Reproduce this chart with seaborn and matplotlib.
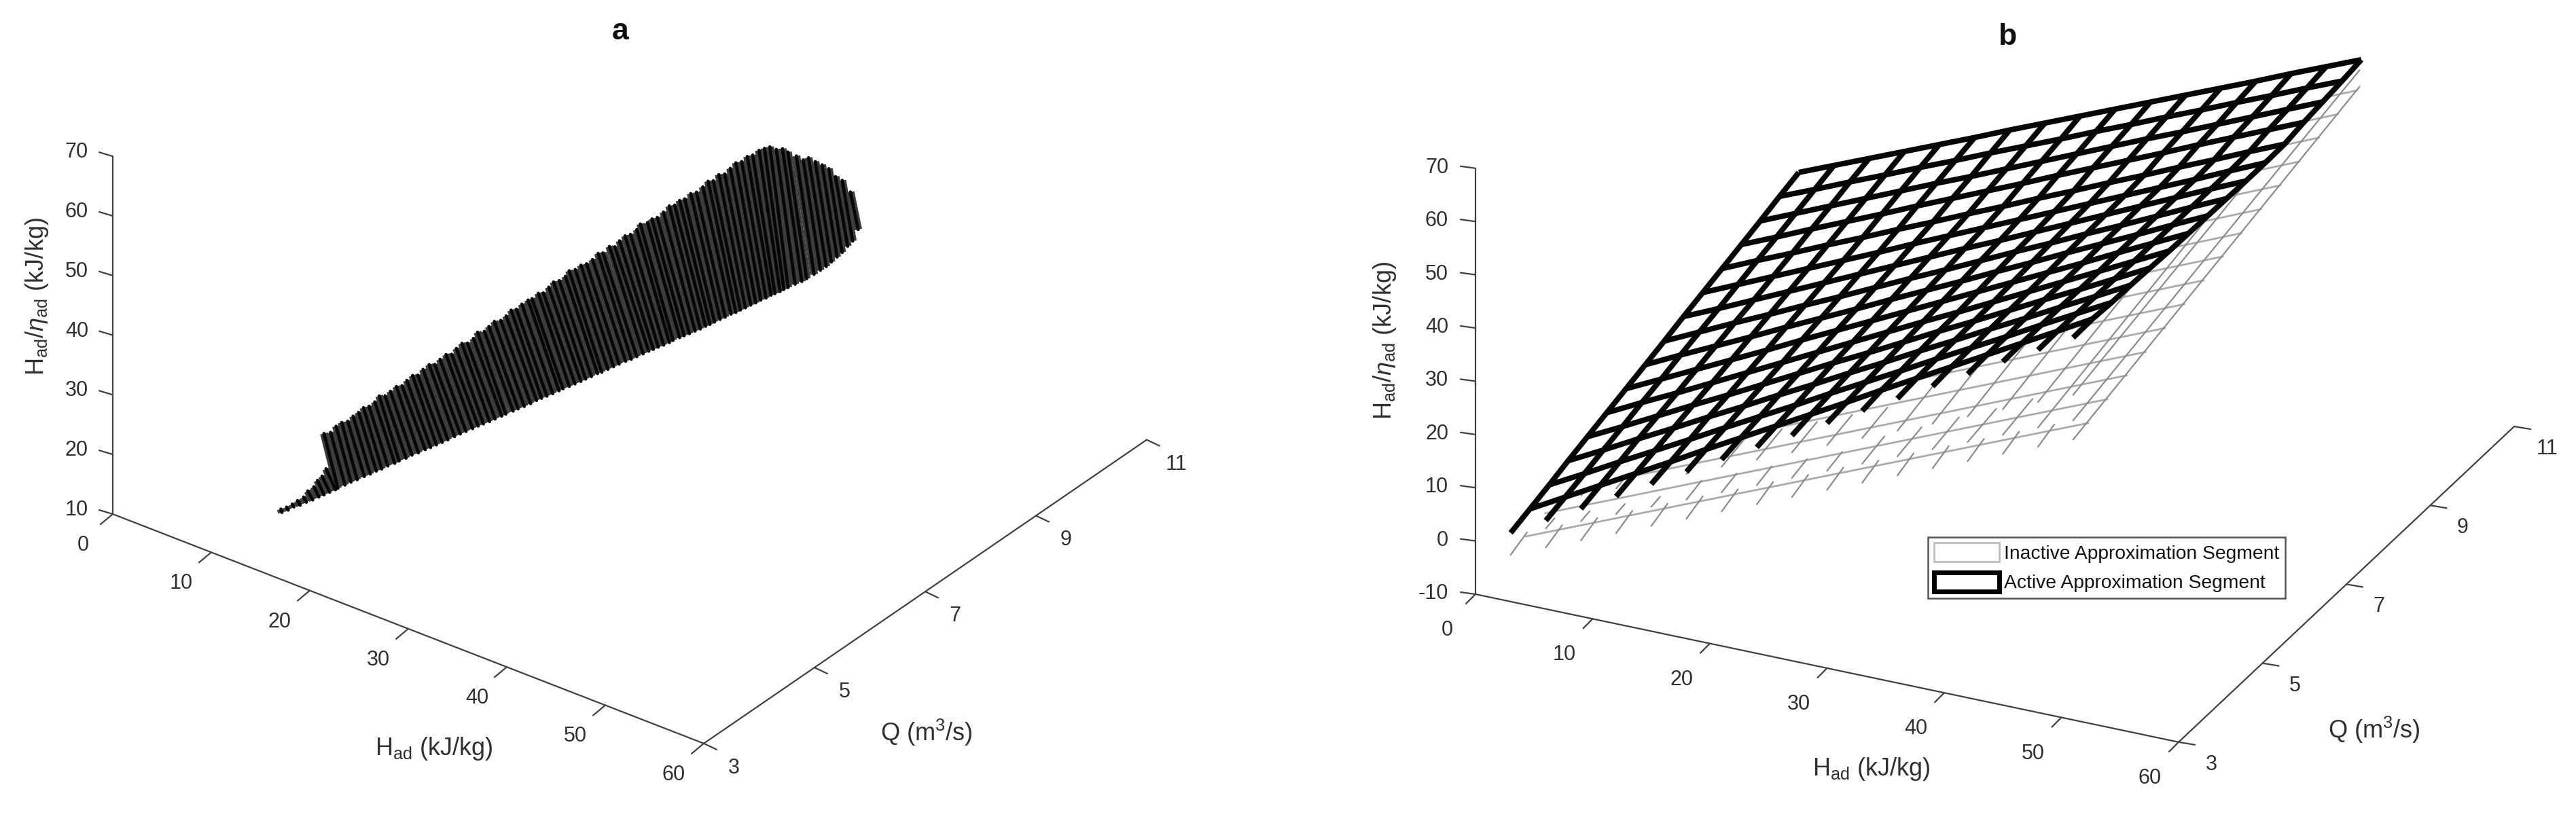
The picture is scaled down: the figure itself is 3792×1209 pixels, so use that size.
import numpy as np, pandas as pd
import matplotlib
matplotlib.use('Agg')
import matplotlib.pyplot as plt
from matplotlib.patches import Patch
from matplotlib.colors import ListedColormap
import seaborn as sns

# ---- Panel a: constant-speed stripes
stripe_H=[13.97,14.44,14.85,15.26,15.72,16.03,16.48,16.73,17.08,17.38,17.23,17.73,18.12,18.52,18.96,19.34,19.73,20.06,20.45,20.87,21.15,21.57,21.95,22.32,22.73,23.05,23.41,23.77,24.13,24.53,24.88,25.24,25.63,25.97,26.28,26.62,26.96,27.34,27.59,28,28.29,28.62,28.99,29.31,29.59,29.91,30.23,30.58,30.82,31.17,31.47,31.78,32.05,32.35,32.68,32.9,33.24,33.53,33.82,34.14,34.43,34.71,35.02,35.3,35.54,35.82,36.09,36.39,36.59,36.92,37.15,37.41,37.7,37.95,38.21,38.43,38.67,38.95,39.19,39.5,39.7,39.94,40.17,40.43,40.66,40.89,41.14,41.37,41.59,41.83,42.05,42.26,42.52,42.75,42.96,43.26,43.51,43.71,43.95,44.19,44.42,44.65,44.88,45.15]
stripe_Q_top=[3.55,3.57,3.6,3.62,3.65,3.67,3.7,3.72,3.74,3.76,3.75,3.78,3.81,3.84,3.87,3.9,3.93,3.96,3.99,4.02,4.05,4.08,4.11,4.15,4.18,4.21,4.25,4.28,4.31,4.35,4.39,4.42,4.46,4.5,4.53,4.57,4.61,4.65,4.68,4.73,4.76,4.8,4.85,4.89,4.93,4.97,5.01,5.06,5.09,5.14,5.18,5.22,5.26,5.31,5.36,5.39,5.44,5.49,5.54,5.59,5.64,5.68,5.74,5.79,5.83,5.88,5.93,5.99,6.02,6.09,6.13,6.18,6.24,6.3,6.35,6.4,6.45,6.51,6.57,6.63,6.69,6.74,6.8,6.86,6.92,6.98,7.04,7.1,7.16,7.23,7.29,7.35,7.42,7.49,7.55,7.65,7.73,7.79,7.87,7.95,8.03,8.11,8.19,8.29]
stripe_Q_bot=[3.57,3.6,3.63,3.67,3.7,3.76,3.79,3.84,3.88,3.93,4,4.04,4.08,4.12,4.17,4.21,4.25,4.29,4.33,4.38,4.41,4.46,4.5,4.55,4.6,4.64,4.68,4.72,4.76,4.81,4.85,4.89,4.94,4.98,5.02,5.07,5.11,5.16,5.19,5.25,5.29,5.34,5.39,5.44,5.48,5.52,5.57,5.62,5.65,5.7,5.75,5.8,5.84,5.89,5.94,5.98,6.03,6.08,6.13,6.19,6.24,6.29,6.35,6.4,6.44,6.48,6.53,6.58,6.61,6.67,6.71,6.76,6.81,6.86,6.91,6.95,6.99,7.04,7.09,7.14,7.19,7.23,7.28,7.33,7.38,7.43,7.48,7.53,7.56,7.61,7.64,7.68,7.76,7.84,7.89,7.97,8.04,8.11,8.16,8.22,8.27,8.33,8.38,8.43]
stripe_Z_top=[16.3,16.8,17.4,18.1,18.8,19.9,20.7,21.8,22.6,23.9,29.8,30.1,31.2,31.9,32.2,33.1,33.8,34.6,34.9,35.7,36.7,36.8,37.6,38.4,38.6,39.5,40.3,40.4,41.4,42.2,42.2,43.1,43.9,43.9,44.9,45.7,45.7,46.5,47.5,47.6,48.4,49.2,49.3,50,50.9,51,51.8,52.4,52.6,53.4,53.4,54.3,55.1,55.2,55.8,56.7,56.8,57.4,57.5,58.1,59,59,59.9,59.7,60.6,61.3,61.4,62,62.9,62.9,63.4,63.5,64.2,65,65,65.6,65.7,66.4,66.4,67.1,67.8,67.7,68.5,68.4,69.1,69.8,69.8,70.4,70.4,70.9,71,71,70.3,70.1,69.3,68.2,67.2,67.3,66.3,65.4,64.4,62.7,61.7,59.3]
stripe_Z_bot=[15.6,16.1,16.7,17,17.6,17.8,18.4,18.6,19,19.3,19,19.6,20.1,20.5,21,21.4,21.9,22.2,22.7,23.1,23.5,23.9,24.4,24.7,25.2,25.5,25.9,26.3,26.7,27.2,27.6,28,28.4,28.8,29.1,29.4,29.8,30.2,30.5,30.9,31.2,31.5,31.9,32.3,32.6,32.9,33.2,33.6,33.9,34.2,34.5,34.8,35.1,35.4,35.8,35.9,36.3,36.6,36.9,37.2,37.4,37.7,38,38.3,38.5,38.8,39,39.3,39.6,39.9,40.1,40.3,40.6,40.8,41.1,41.3,41.6,41.9,42.1,42.5,42.6,42.9,43.1,43.4,43.6,43.9,44.1,44.4,44.6,44.8,45.1,45.3,45.5,45.6,45.9,46.3,46.7,47,47.6,48.2,48.8,49.6,50.3,52.1]

# ---- Panel b: approximation segments
mesh_H=[3,6,9,12,15,18,21,24,27,30,33,36,39,42,45,48,51]
mesh_Q=[3,3.46,3.92,4.37,4.83,5.29,5.75,6.21,6.66,7.12,7.58,8.04,8.5,8.95,9.41,9.87]
active_Z=[
[2.9,6.6,10.2,13.9,17.6,21.3,25,28.7,32.3,36,39.7,43.4,47.1,50.8,54.5,58.1,61.8],
[4,7.6,11.2,14.8,18.4,22.1,25.7,29.3,32.9,36.5,40.2,43.8,47.4,51,54.6,58.2,61.9],
[5.1,8.6,12.2,15.7,19.2,22.8,26.3,29.8,33.4,36.9,40.4,44,47.5,51,54.6,58.1,61.6],
[6.3,9.7,13.2,16.6,20.1,23.5,27,30.4,33.9,37.3,40.8,44.2,47.7,51.1,54.6,58,61.5],
[7.4,10.7,14.1,17.5,20.8,24.2,27.6,31,34.3,37.7,41.1,44.4,47.8,51.2,54.5,57.9,61.3],
[8.5,11.8,15,18.3,21.6,24.9,28.2,31.5,34.8,38.1,41.3,44.6,47.9,51.2,54.5,57.8,61.1],
[9.6,12.8,16.0,19.2,22.4,25.7,28.9,32.1,35.3,38.5,41.7,44.9,48.1,51.3,54.6,57.8,61.0],
[10.7,13.9,17.0,20.1,23.3,26.4,29.5,32.7,35.8,38.9,42.1,45.2,48.4,51.5,54.6,57.8,60.9],
[11.8,14.9,18.0,21.0,24.1,27.1,30.2,33.3,36.3,39.4,42.5,45.5,48.6,51.6,54.7,57.8,60.8],
[13.0,15.9,18.9,21.9,24.9,27.9,30.9,33.9,36.9,39.8,42.8,45.8,48.8,51.8,54.8,57.8,60.7],
[14.1,17.0,19.9,22.8,25.7,28.6,31.6,34.5,37.4,40.3,43.2,46.1,49.0,51.9,54.8,57.8,60.7],
[15.2,18.1,20.9,23.8,26.6,29.5,32.3,35.2,38.0,40.9,43.7,46.6,49.4,52.3,55.1,58.0,60.8],
[16.3,19.1,22.0,24.8,27.6,30.5,33.3,36.1,38.9,41.8,44.6,47.4,50.2,53.1,55.9,58.7,61.5],
[17.4,20.2,23.0,25.8,28.6,31.4,34.1,36.9,39.7,42.5,45.3,48.1,50.8,53.6,56.4,59.2,62.0],
[18.6,21.3,24.1,26.8,29.6,32.3,35.1,37.8,40.5,43.3,46.0,48.8,51.5,54.3,57.0,59.8,62.5],
[19.7,22.4,25.1,27.8,30.5,33.2,36.0,38.7,41.4,44.1,46.8,49.5,52.2,54.9,57.7,60.4,63.1]]
inactive_row_Q=[3.36,3.82,4.28,4.73,5.19,5.65,6.11,6.57,7.02,7.48,7.94,8.40,8.86,9.31,9.77]
inactive_row_Z_start=[-0.43,0.51,1.46,2.40,3.35,4.29,5.23,6.18,7.12,8.07,9.01,9.95,10.90,11.84,12.79]
inactive_row_Z_end=[43.09,44.16,45.23,46.30,47.37,48.45,49.52,50.59,51.66,52.73,53.80,54.87,55.94,57.01,58.08]
inactive_col_Q=3.0
inactive_col_Z=[-1.21,1.53,4.27,7.01,9.75,12.50,15.24,17.98,20.72,23.46,26.20,28.94,31.68,34.42,37.17,39.91,42.65]
inactive_stack_dZ=[0,3.6,8.4]
inactive_dash_dQ=[[.39,.39,.39,.39,.39,.39,.39,.39,.39,.39,.39,.39,.39,.39,.39,.39,6.83],
 [0,.21,.21,.21,.21,.36,.36,.36,.36,.36,.53,.58,.63,.68,.71,6.0,6.83],
 [0,.6,.6,.6,.6,.6,.6,.6,.6,.6,.6,3,3,3,3,6,6.5]]
inactive_dash_dZ=[[1.32,1.32,1.32,1.32,1.32,1.32,1.32,1.32,1.32,1.32,1.32,1.32,1.32,1.32,1.32,1.32,15.7],
 [0,.35,.35,.35,.35,.9,.9,.9,.9,.9,1.2,1.2,1.33,1.2,1.5,14.0,15.2],
 [0,1.3,1.3,1.3,1.3,1.3,1.3,1.3,1.3,1.3,1.3,7.5,7.5,7.5,7.5,14,14.7]]

# ---- Axis ticks and labels
H_ticks=[0,10,20,30,40,50,60]
Q_ticks=[3,5,7,9,11]
Z_ticks_a=[10,20,30,40,50,60,70]
Z_ticks_b=[-10,0,10,20,30,40,50,60,70]
H_label=r'H$_{\mathrm{ad}}$ (kJ/kg)'
Q_label=r'Q (m$^{3}$/s)'
Z_label=r'H$_{\mathrm{ad}}$/$\eta_{\mathrm{ad}}$ (kJ/kg)'

sns.set_theme(style='white')
plt.rcParams['font.family']=['Liberation Sans','DejaVu Sans']
plt.rcParams.update({'mathtext.fontset':'custom','mathtext.rm':'Liberation Sans','mathtext.it':'Liberation Sans:italic','mathtext.fallback':'stixsans'})
TXT='#303030'; AX='#404040'; TICK=11; LABEL=13
fig=plt.figure(figsize=(18.96,6.045),dpi=200)
ax_a=fig.add_axes([0,0,.5,1]); ax_b=fig.add_axes([.5,0,.5,1])

class View:
    """Fixed orthographic view of the MATLAB-style 3-D axes."""
    def __init__(s,o,h,q,z,zmin): s.o,s.h,s.q,s.z,s.zmin=o,h,q,z,zmin
    def __call__(s,H,Q,Z):
        H,Q,Z=[np.asarray(a,float) for a in (H,Q,Z)]
        return s.o[0]+s.h[0]*H+s.q[0]*(Q-3), s.o[1]+s.h[1]*H+s.q[1]*(Q-3)+s.z*(Z-s.zmin)
view_a=View((166,757),(14.5,5.63),(81.5,-55.9),-8.78,10)
view_b=View((2172,875),(17.25,3.63),(61.75,-58.1),-7.84,-10)

def lines(ax,v,H,Q,Z,ids,**kw):
    x,y=v(H,Q,Z)
    d=pd.DataFrame({'x':x,'y':y,'line':ids})
    sns.lineplot(data=d,x='x',y='y',units='line',estimator=None,sort=False,ax=ax,legend=False,errorbar=None,**kw)

def frame(ax,v,zticks,ht,qt,zt,lh,lq,lz):
    zmin,zmax=zticks[0],zticks[-1]
    for a,b in (((0,3,zmin),(60,3,zmin)),((60,3,zmin),(60,11,zmin)),((0,3,zmin),(0,3,zmax))):
        x,y=v([a[0],b[0]],[a[1],b[1]],[a[2],b[2]])
        ax.plot(x,y,color=AX,lw=.8,zorder=5)
    for t in H_ticks:
        x,y=v(t,3,zmin); ax.plot([x,x+ht[0]],[y,y+ht[1]],color=AX,lw=.8)
        ax.text(x+lh[0],y+lh[1],str(t),ha='center',va='center',color=TXT,fontsize=TICK)
    for t in Q_ticks:
        x,y=v(60,t,zmin); ax.plot([x,x+qt[0]],[y,y+qt[1]],color=AX,lw=.8)
        ax.text(x+lq[0],y+lq[1],str(t),ha='center',va='center',color=TXT,fontsize=TICK)
    for t in zticks:
        x,y=v(0,3,t); ax.plot([x,x+zt[0]],[y,y+zt[1]],color=AX,lw=.8)
        ax.text(x+lz[0],y+lz[1],str(t),ha='right',va='center',color=TXT,fontsize=TICK)

# panel a: a continuous grey underlay closes the gaps, black stripes on top
I2=np.repeat(np.arange(len(stripe_H)),2)
H2=np.repeat(stripe_H,2)
Q2=np.ravel(np.column_stack([stripe_Q_top,stripe_Q_bot]))
Z2=np.ravel(np.column_stack([stripe_Z_top,stripe_Z_bot]))
lines(ax_a,view_a,H2,Q2,Z2,I2,color='#3c3c3c',lw=4.2,solid_capstyle='butt')
lines(ax_a,view_a,H2,Q2,Z2,I2,color='#060606',lw=1.7,solid_capstyle='round')
frame(ax_a,view_a,Z_ticks_a,(-18,15),(19,9),(-20,-6),(-44,46),(44,36),(-36,-6))
ax_a.text(639,1103,H_label,ha='center',va='center',color=TXT,fontsize=LABEL)
ax_a.text(1364,1079,Q_label,ha='center',va='center',color=TXT,fontsize=LABEL)
ax_a.text(55,436,Z_label,ha='center',va='center',rotation=90,color=TXT,fontsize=LABEL)
ax_a.text(913,46,'a',ha='center',va='center',fontweight='bold',color='#111111',fontsize=16)

# panel b: inactive segment first, the active one hides it
Hr=[];Qr=[];Zr=[];Ir=[]
for r,q in enumerate(inactive_row_Q):
    Hr+=[mesh_H[0],mesh_H[-1]];Qr+=[q,q];Zr+=[inactive_row_Z_start[r],inactive_row_Z_end[r]];Ir+=[r,r]
lines(ax_b,view_b,Hr,Qr,Zr,Ir,color='#ababab',lw=1.0)
Hd=[];Qd=[];Zd=[];Id=[];n=0
for j,dz0 in enumerate(inactive_stack_dZ):
    for i,h in enumerate(mesh_H):
        if inactive_dash_dQ[j][i]==0: continue
        Hd+=[h,h];Qd+=[inactive_col_Q,inactive_col_Q+inactive_dash_dQ[j][i]];z0=inactive_col_Z[i]+dz0
        Zd+=[z0,z0+inactive_dash_dZ[j][i]];Id+=[n,n];n+=1
lines(ax_b,view_b,Hd,Qd,Zd,Id,color='#8c8c8c',lw=.8)
Zm=np.array(active_Z); Hm,Qm=np.meshgrid(mesh_H,mesh_Q)
Xp,Yp=view_b(Hm,Qm,Zm)
ax_b.pcolormesh(Xp[1:],Yp[1:],np.zeros((14,16)),cmap=ListedColormap(['white']),shading='flat',zorder=2.5)
Hl=[];Ql=[];Zl=[];Il=[];n=0
for k in range(1,16):
    Hl+=mesh_H;Ql+=[mesh_Q[k]]*17;Zl+=list(Zm[k]);Il+=[n]*17;n+=1
for i in range(17):
    Hl+=[mesh_H[i]]*16;Ql+=mesh_Q;Zl+=list(Zm[:,i]);Il+=[n]*16;n+=1
lines(ax_b,view_b,Hl,Ql,Zl,Il,color='#050505',lw=2.9,zorder=3,solid_capstyle='butt')
frame(ax_b,view_b,Z_ticks_b,(-14,14),(24,4),(-22,-3),(-42,53),(48,33),(-40,-1))
ax_b.text(2755,1133,H_label,ha='center',va='center',color=TXT,fontsize=LABEL)
ax_b.text(3495,1075,Q_label,ha='center',va='center',color=TXT,fontsize=LABEL)
ax_b.text(2038,501,Z_label,ha='center',va='center',rotation=90,color=TXT,fontsize=LABEL)
ax_b.text(2955,54,'b',ha='center',va='center',fontweight='bold',color='#111111',fontsize=16)

for ax,(l,r) in ((ax_a,(0,1896)),(ax_b,(1896,3792))):
    ax.set_xlim(l,r); ax.set_ylim(1209,0); ax.axis('off')
leg=ax_b.legend(handles=[Patch(fc='white',ec='#bdbdbd',lw=1.0,label='Inactive Approximation Segment'),
                         Patch(fc='white',ec='#000000',lw=2.5,label='Active Approximation Segment')],
    loc='lower left',bbox_to_anchor=(2838,881),bbox_transform=ax_b.transData,borderaxespad=0,borderpad=.3,
    fontsize=10.2,handlelength=3.4,handleheight=1.15,handletextpad=.25,labelspacing=.5,fancybox=False,framealpha=1,edgecolor='#555555',labelcolor='#111111')
leg.get_frame().set_linewidth(.9); leg.set_zorder(6)
fig.savefig('out.png',dpi=200)
